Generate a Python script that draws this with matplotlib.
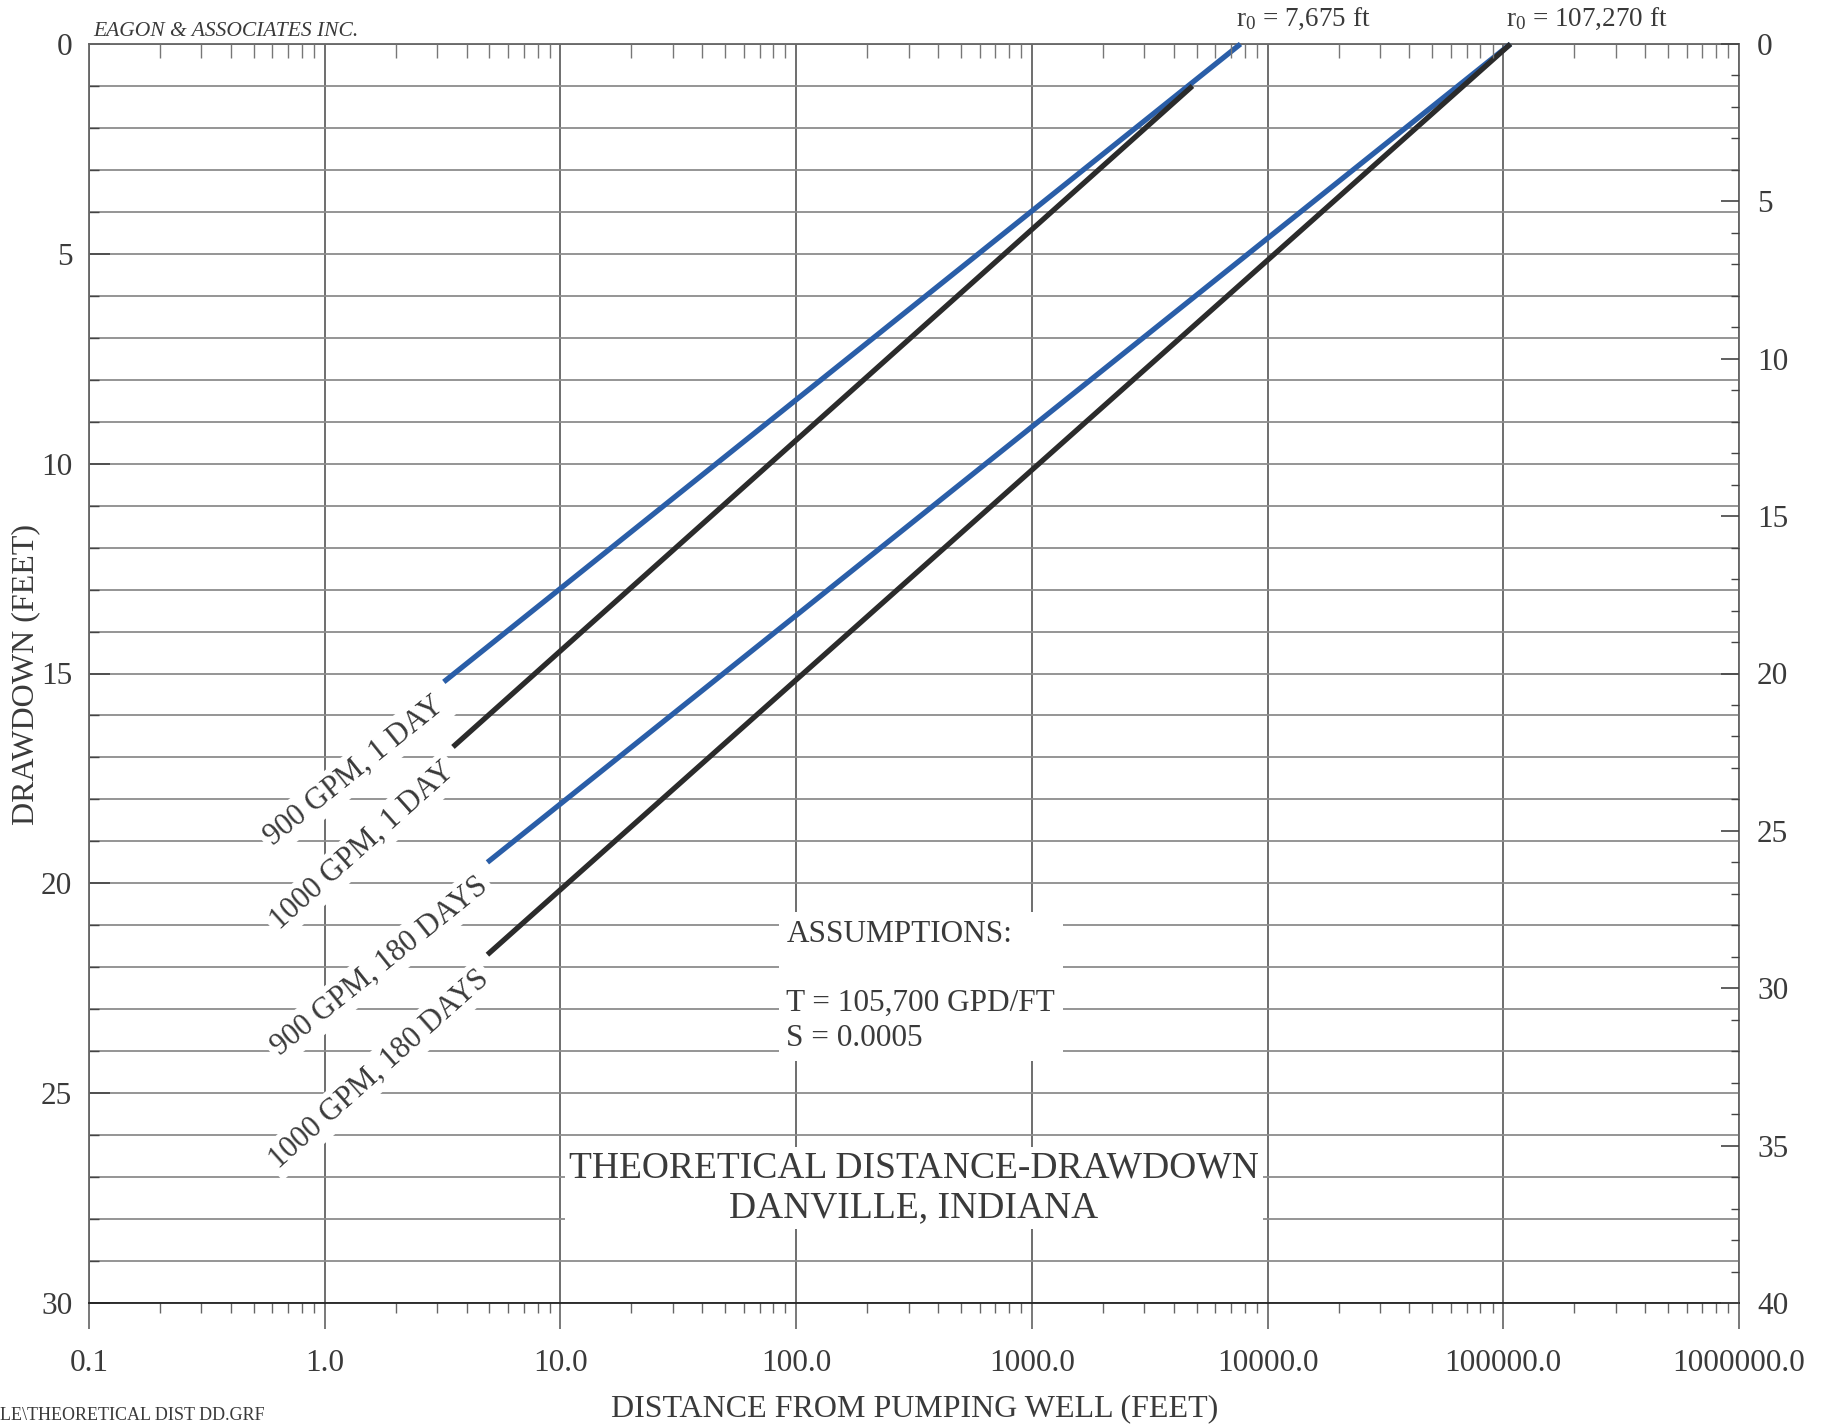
import numpy as np
import matplotlib
matplotlib.use("Agg")
import matplotlib.pyplot as plt
from matplotlib.ticker import FixedLocator, MultipleLocator, NullFormatter, FixedFormatter, LogLocator

plt.rcParams['font.family'] = ['Liberation Serif', 'DejaVu Serif']
plt.rcParams['mathtext.fontset'] = 'custom'
plt.rcParams['mathtext.rm'] = 'Liberation Serif'
plt.rcParams['mathtext.it'] = 'Liberation Serif:italic'

# ---------------- data ----------------
series_names = ["900 GPM, 1 DAY", "1000 GPM, 1 DAY", "900 GPM, 180 DAYS", "1000 GPM, 180 DAYS"]
series_r = [[3.2, 7675.0], [3.5, 4800.0], [4.9, 107270.0], [4.9, 107270.0]]   # distance (ft)
series_s = [[15.2, 0.0], [16.75, 1.0], [19.5, 0.0], [21.7, 0.0]]              # drawdown (ft)
series_colors = ["#2a5ea8", "#2b2b2b", "#2a5ea8", "#2b2b2b"]

r0_values = [7675.0, 107270.0]
r0_labels = ["r$_0$ = 7,675 ft", "r$_0$ = 107,270 ft"]

x_ticks = [0.1, 1.0, 10.0, 100.0, 1000.0, 10000.0, 100000.0, 1000000.0]
x_ticklabels = ["0.1", "1.0", "10.0", "100.0", "1000.0", "10000.0", "100000.0", "1000000.0"]
left_ticks = [0, 5, 10, 15, 20, 25, 30]
right_ticks = [0, 5, 10, 15, 20, 25, 30, 35, 40]

assumption_lines = ["ASSUMPTIONS:", "", "T = 105,700 GPD/FT", "S = 0.0005"]
title_lines = ["THEORETICAL DISTANCE-DRAWDOWN", "DANVILLE, INDIANA"]

TXT = "#3a3a3a"
W, H = 1827, 1426
fig = plt.figure(figsize=(W / 100, H / 100), dpi=100)
L, R, T, B = 89, 1739, 44, 1303
ax = fig.add_axes([L / W, 1 - B / H, (R - L) / W, (B - T) / H])

ax.set_xscale("log")
ax.set_xlim(x_ticks[0], x_ticks[-1])
ax.set_ylim(30, 0)

# grid
ax.set_axisbelow(True)
ax.yaxis.set_minor_locator(MultipleLocator(1))
ax.yaxis.set_major_locator(FixedLocator(left_ticks))
ax.yaxis.set_major_formatter(FixedFormatter([str(t) for t in left_ticks]))
ax.xaxis.set_major_locator(FixedLocator(x_ticks))
ax.xaxis.set_major_formatter(FixedFormatter(x_ticklabels))
ax.xaxis.set_minor_locator(LogLocator(base=10, subs=np.arange(2, 10), numticks=20))
ax.xaxis.set_minor_formatter(NullFormatter())
ax.grid(axis="y", which="both", color="#8c8c8c", linewidth=1.3)
ax.grid(axis="x", which="major", color="#555555", linewidth=1.2)

for sp in ax.spines.values():
    sp.set_color("#666666")
    sp.set_linewidth(1.3)
ax.spines["bottom"].set_color("#222222")

ax.tick_params(axis="x", which="major", direction="out", length=19, width=1.1, color="#555555",
               labelsize=22.5, labelcolor=TXT, pad=14)
ax.tick_params(axis="x", which="minor", direction="out", length=7, width=1.0, color="#666666")
ax.tick_params(axis="y", which="major", direction="in", length=15, width=1.2, color="#444444",
               labelsize=22.5, labelcolor=TXT, pad=12)
ax.tick_params(axis="y", which="minor", direction="in", length=7, width=1.0, color="#444444")

# top ticks (inside)
axt = ax.twiny()
axt.set_xscale("log")
axt.set_xlim(ax.get_xlim())
axt.xaxis.set_major_locator(FixedLocator(x_ticks))
axt.xaxis.set_minor_locator(LogLocator(base=10, subs=np.arange(2, 10), numticks=20))
axt.xaxis.set_major_formatter(NullFormatter())
axt.xaxis.set_minor_formatter(NullFormatter())
axt.tick_params(axis="x", which="both", direction="in", length=10, width=1.0, color="#777777")
axt.tick_params(axis="x", which="major", length=0)
for sp in axt.spines.values():
    sp.set_visible(False)

# right axis
axr = ax.twinx()
axr.set_ylim(40, 0)
axr.yaxis.set_major_locator(FixedLocator(right_ticks))
axr.yaxis.set_major_formatter(FixedFormatter([str(t) for t in right_ticks]))
axr.yaxis.set_minor_locator(MultipleLocator(1))
axr.tick_params(axis="y", which="major", direction="in", length=13, width=1.2, color="#444444",
                labelsize=22.5, labelcolor=TXT, pad=13)
axr.tick_params(axis="y", which="minor", direction="in", length=6, width=1.0, color="#444444")
for sp in axr.spines.values():
    sp.set_visible(False)

# lines
for name, rr, ss, c in zip(series_names, series_r, series_s, series_colors):
    ax.plot(rr, ss, color=c, linewidth=3.8, solid_capstyle="butt", zorder=5, clip_on=False)
    p0 = ax.transData.transform((rr[0], ss[0]))
    p1 = ax.transData.transform((rr[1], ss[1]))
    ang = np.degrees(np.arctan2(p1[1] - p0[1], p1[0] - p0[0]))
    back = 9.0
    ax.annotate(name, xy=(rr[0], ss[0]), xycoords="data",
                xytext=(-back * np.cos(np.radians(ang)) - 2, -back * np.sin(np.radians(ang)) - 1),
                textcoords="offset points", ha="right", va="top", rotation=ang,
                rotation_mode="anchor", fontsize=22, color=TXT, zorder=4,
                bbox=dict(boxstyle="square,pad=0.15", fc="white", ec="none"))

# r0 labels
for r0, lab in zip(r0_values, r0_labels):
    ax.annotate(lab, xy=(r0, 0), xycoords="data", xytext=(-3, 9), textcoords="offset points",
                ha="left", va="bottom", fontsize=19.5, color=TXT, annotation_clip=False)

# assumptions block
ax.text(0.4227, 0.304, "\n".join(assumption_lines), transform=ax.transAxes, ha="left", va="top",
        fontsize=22.5, color=TXT, linespacing=1.25, zorder=4,
        bbox=dict(boxstyle="square,pad=0.25", fc="white", ec="none"))

# title block
ax.text(0.5, 0.0913, "\n".join(title_lines), transform=ax.transAxes, ha="center", va="center",
        fontsize=27, color=TXT, linespacing=1.2, zorder=4,
        bbox=dict(boxstyle="square,pad=0.1", fc="white", ec="none"))

# other text
fig.text(93 / W, 1 - 31 / H, "EAGON & ASSOCIATES INC.", ha="left", va="center", fontsize=15.5,
         style="italic", color=TXT)
fig.text(26 / W, 1 - 675 / H, "DRAWDOWN (FEET)", rotation=90, ha="center", va="center",
         fontsize=23, color=TXT)
fig.text(915 / W, 1 - 1409 / H, "DISTANCE FROM PUMPING WELL (FEET)", ha="center", va="center",
         fontsize=23, color=TXT)
fig.text(0.0, 1 - 1415 / H, "LE\\THEORETICAL DIST DD.GRF", ha="left", va="center",
         fontsize=13, color=TXT)

fig.savefig("out.png", dpi=100, facecolor="white")
